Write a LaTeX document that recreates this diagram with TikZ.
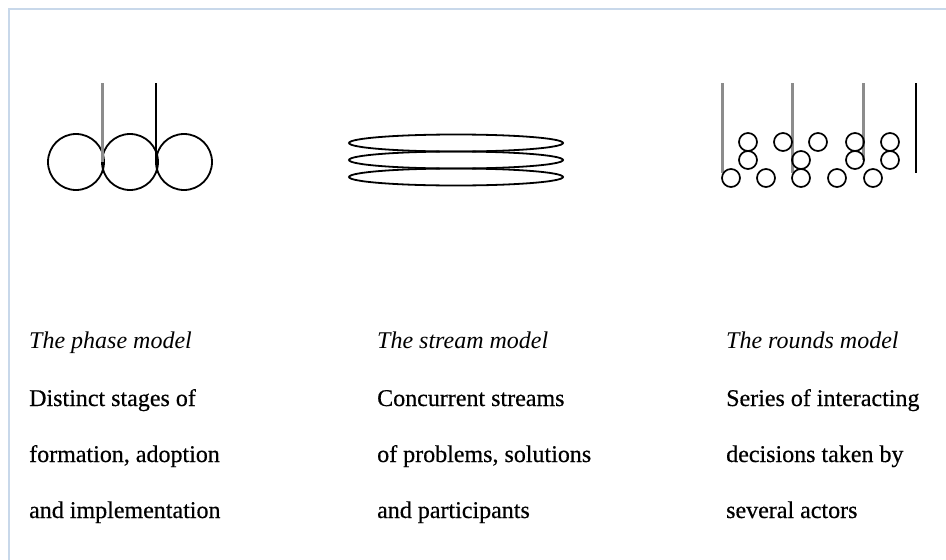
\documentclass[tikz,border=0pt]{standalone}
\usepackage{fontspec}
\setmainfont{Liberation Serif}[AutoFakeBold=0.5]
\begin{document}
\begin{tikzpicture}[x=1pt,y=-1pt,
  ring/.style={draw=black,line width=1.8pt},
  greypole/.style={draw=black!45,line width=3pt},
  blackpole/.style={draw=black,line width=2pt},
  caption/.style={anchor=base west,inner sep=0pt,font=\fontsize{24}{28}\selectfont\bfseries}]
\useasboundingbox (0,0) rectangle (946,560);
% page frame
\draw[draw={rgb,255:red,200;green,216;blue,234},line width=1.5pt] (9,560) -- (9,9) -- (946,9);

% phase model: three stages in a row
\foreach \cx in {76,130,184} \draw[ring] (\cx,162) circle (28);
\draw[greypole] (102,83) -- (102,162);
\draw[blackpole] (156,83) -- (156,162);

% stream model: three stacked streams
\foreach \cy in {143,160,177} \draw[ring] (456,\cy) ellipse (107 and 8.5);

% rounds model: poles and decision rounds
\draw[greypole] (722,83) -- (722,173);
\draw[greypole] (792,83) -- (792,173);
\draw[greypole] (863,83) -- (863,160);
\draw[blackpole] (916,83) -- (916,173);
\foreach \cx/\cy in {731/178,766/178,801/178,837/178,873/178,
                     748/160,801/160,855/160,890/160,
                     748/142,783/142,818/142,855/142,890/142}
  \draw[ring,line width=1.7pt] (\cx,\cy) circle (9);

% captions
\node[caption] (t1) at (29,348) {\itshape The phase model};
\node[caption] (a1) at (29,406) {Distinct stages of};
\node[caption] (b1) at (29,462) {formation, adoption};
\node[caption] (c1) at (29,518) {and implementation};

\node[caption] (t2) at (377,348) {\itshape The stream model};
\node[caption] (a2) at (377,406) {Concurrent streams};
\node[caption] (b2) at (377,462) {of problems, solutions};
\node[caption] (c2) at (377,518) {and participants};

\node[caption] (t3) at (726,348) {\itshape The rounds model};
\node[caption] (a3) at (726,406) {Series of interacting};
\node[caption] (b3) at (726,462) {decisions taken by};
\node[caption] (c3) at (726,518) {several actors};
\end{tikzpicture}
\end{document}
